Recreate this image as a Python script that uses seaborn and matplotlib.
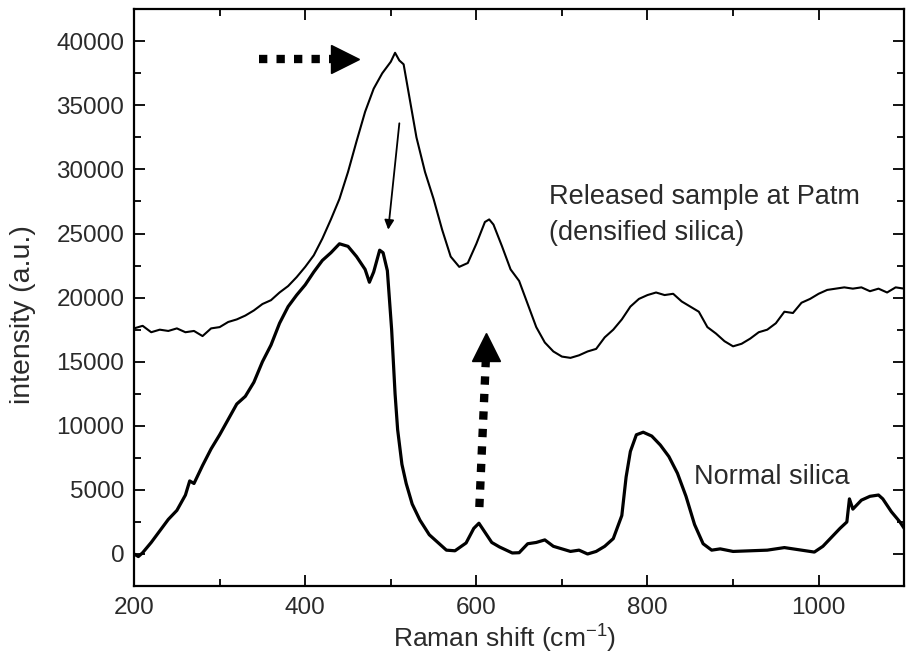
import matplotlib
matplotlib.use("Agg")
import matplotlib.pyplot as plt
import seaborn as sns
import pandas as pd
from matplotlib.ticker import MultipleLocator

# ---------------- data ----------------
densified_x = [200, 210, 220, 230, 240, 250, 260, 270, 280, 290, 300, 310, 320, 330, 340,
               350, 360, 370, 380, 390, 400, 410, 420, 430, 440, 450, 460, 470, 480, 490,
               500, 505, 510, 515, 520, 530, 540, 550, 560, 570, 580, 590, 600, 610, 615,
               620, 630, 640, 650, 660, 670, 680, 690, 700, 710, 720, 730, 740, 750, 760,
               770, 780, 790, 800, 810, 820, 830, 840, 850, 860, 870, 880, 890, 900, 910,
               920, 930, 940, 950, 960, 970, 980, 990, 1000, 1010, 1020, 1030, 1040, 1050,
               1060, 1070, 1080, 1090, 1100]
densified_y = [17600, 17800, 17300, 17500, 17400, 17600, 17300, 17400, 17000, 17600, 17700,
               18100, 18300, 18600, 19000, 19500, 19800, 20400, 20900, 21600, 22400, 23300,
               24600, 26100, 27700, 29800, 32200, 34500, 36300, 37500, 38400, 39100, 38500,
               38200, 36300, 32500, 29800, 27700, 25300, 23200, 22400, 22700, 24200, 25900,
               26100, 25700, 24000, 22200, 21300, 19500, 17700, 16500, 15800, 15400, 15300,
               15500, 15800, 16000, 16900, 17500, 18300, 19300, 19900, 20200, 20400, 20200,
               20300, 19700, 19300, 18900, 17700, 17200, 16600, 16200, 16400, 16800, 17300,
               17500, 18000, 18900, 18800, 19600, 19900, 20300, 20600, 20700, 20800, 20700,
               20800, 20500, 20700, 20400, 20800, 20700]

normal_x = [200, 205, 210, 220, 230, 240, 250, 260, 265, 270, 280, 290, 300, 310, 320, 330,
            340, 350, 360, 370, 380, 390, 400, 410, 420, 430, 440, 450, 460, 470, 475, 480,
            487, 491, 496, 501, 505, 508, 513, 518, 525, 534, 545, 555, 565, 575, 588, 597,
            603, 610, 618, 627, 642, 650, 660, 670, 680, 690, 700, 710, 720, 730, 740, 750,
            760, 770, 775, 780, 787, 795, 805, 815, 825, 835, 845, 855, 865, 875, 885, 900,
            920, 940, 960, 980, 995, 1005, 1015, 1025, 1033, 1036, 1040, 1050, 1060, 1070,
            1075, 1085, 1095, 1100]
normal_y = [0, -200, 100, 900, 1800, 2700, 3400, 4600, 5700, 5500, 6900, 8200, 9300, 10500,
            11700, 12300, 13400, 15000, 16300, 18000, 19300, 20200, 21000, 22000, 22900, 23500,
            24200, 24000, 23200, 22200, 21200, 22000, 23700, 23500, 22100, 17500, 12500, 9700,
            7000, 5500, 3900, 2650, 1500, 900, 300, 250, 860, 2000, 2400, 1700, 900, 550, 80,
            100, 800, 900, 1100, 600, 400, 200, 300, 0, 200, 600, 1200, 3000, 6000, 8000, 9300,
            9500, 9200, 8500, 7600, 6300, 4500, 2300, 800, 300, 400, 200, 250, 300, 500, 300,
            150, 600, 1300, 2000, 2500, 4300, 3500, 4200, 4500, 4600, 4300, 3300, 2500, 2000]

x_ticks = [200, 400, 600, 800, 1000]
y_ticks = [0, 5000, 10000, 15000, 20000, 25000, 30000, 35000, 40000]

df_dens = pd.DataFrame({"shift": densified_x, "intensity": densified_y})
df_norm = pd.DataFrame({"shift": normal_x, "intensity": normal_y})

# ---------------- style ----------------
sns.set_theme(style="ticks")
plt.rcParams["font.family"] = ["Liberation Sans", "DejaVu Sans"]
plt.rcParams["mathtext.fontset"] = "custom"
plt.rcParams["mathtext.rm"] = "Liberation Sans"
plt.rcParams["mathtext.it"] = "Liberation Sans"
plt.rcParams["mathtext.bf"] = "Liberation Sans"

txt = "#2a2a2a"
fig = plt.figure(figsize=(9.06, 6.57), dpi=100)
ax = fig.add_axes([0.148, 0.108, 0.850, 0.878])

sns.lineplot(data=df_dens, x="shift", y="intensity", ax=ax, color="black",
             linewidth=1.5, estimator=None, sort=False)
sns.lineplot(data=df_norm, x="shift", y="intensity", ax=ax, color="black",
             linewidth=2.3, estimator=None, sort=False)

ax.set_xlim(200, 1100)
ax.set_ylim(-2500, 42500)
ax.set_xticks(x_ticks)
ax.set_yticks(y_ticks)
ax.xaxis.set_minor_locator(MultipleLocator(100))
ax.yaxis.set_minor_locator(MultipleLocator(2500))
ax.tick_params(which="both", direction="in", top=True, right=True, width=1.3,
               colors="black", labelcolor=txt, labelsize=17.5)
ax.tick_params(which="major", length=8)
ax.tick_params(which="minor", length=5)
ax.tick_params(axis="y", pad=7)
ax.tick_params(axis="x", pad=8)
for s in ax.spines.values():
    s.set_linewidth(1.6)
    s.set_color("black")

ax.set_xlabel(r"Raman shift (cm$^{\mathregular{-1}}$)", fontsize=19, color=txt)
ax.xaxis.set_label_coords(0.481, -0.063)
ax.set_ylabel("intensity (a.u.)", fontsize=20.5, color=txt)
ax.yaxis.set_label_coords(-0.128, 0.470)

# ---------------- annotations ----------------
ax.text(685, 27840, "Released sample at Patm", fontsize=19.5, color=txt, va="center", ha="left")
ax.text(685, 25030, "(densified silica)", fontsize=19.5, color=txt, va="center", ha="left")
ax.text(854, 6000, "Normal silica", fontsize=19.5, color=txt, va="center", ha="left")

# horizontal dotted arrow
ax.plot([346, 440], [38600, 38600], color="black", linewidth=6, dashes=(1, 1.1),
        solid_capstyle="butt", dash_capstyle="butt")
ax.plot([446], [38650], marker=">", markersize=20, color="black", linestyle="none")

# vertical dotted arrow
ax.plot([603.5, 611.0], [3660, 15000], color="black", linewidth=6, dashes=(1, 1.1),
        solid_capstyle="butt", dash_capstyle="butt")
ax.plot([611.6], [16150], marker="^", markersize=20, color="black", linestyle="none")

# thin arrow
ax.annotate("", xy=(497, 25300), xytext=(510, 33600),
            arrowprops=dict(arrowstyle="-|>", color="black", lw=1.3, mutation_scale=14,
                            shrinkA=0, shrinkB=0))

fig.savefig("out.png", dpi=100)
